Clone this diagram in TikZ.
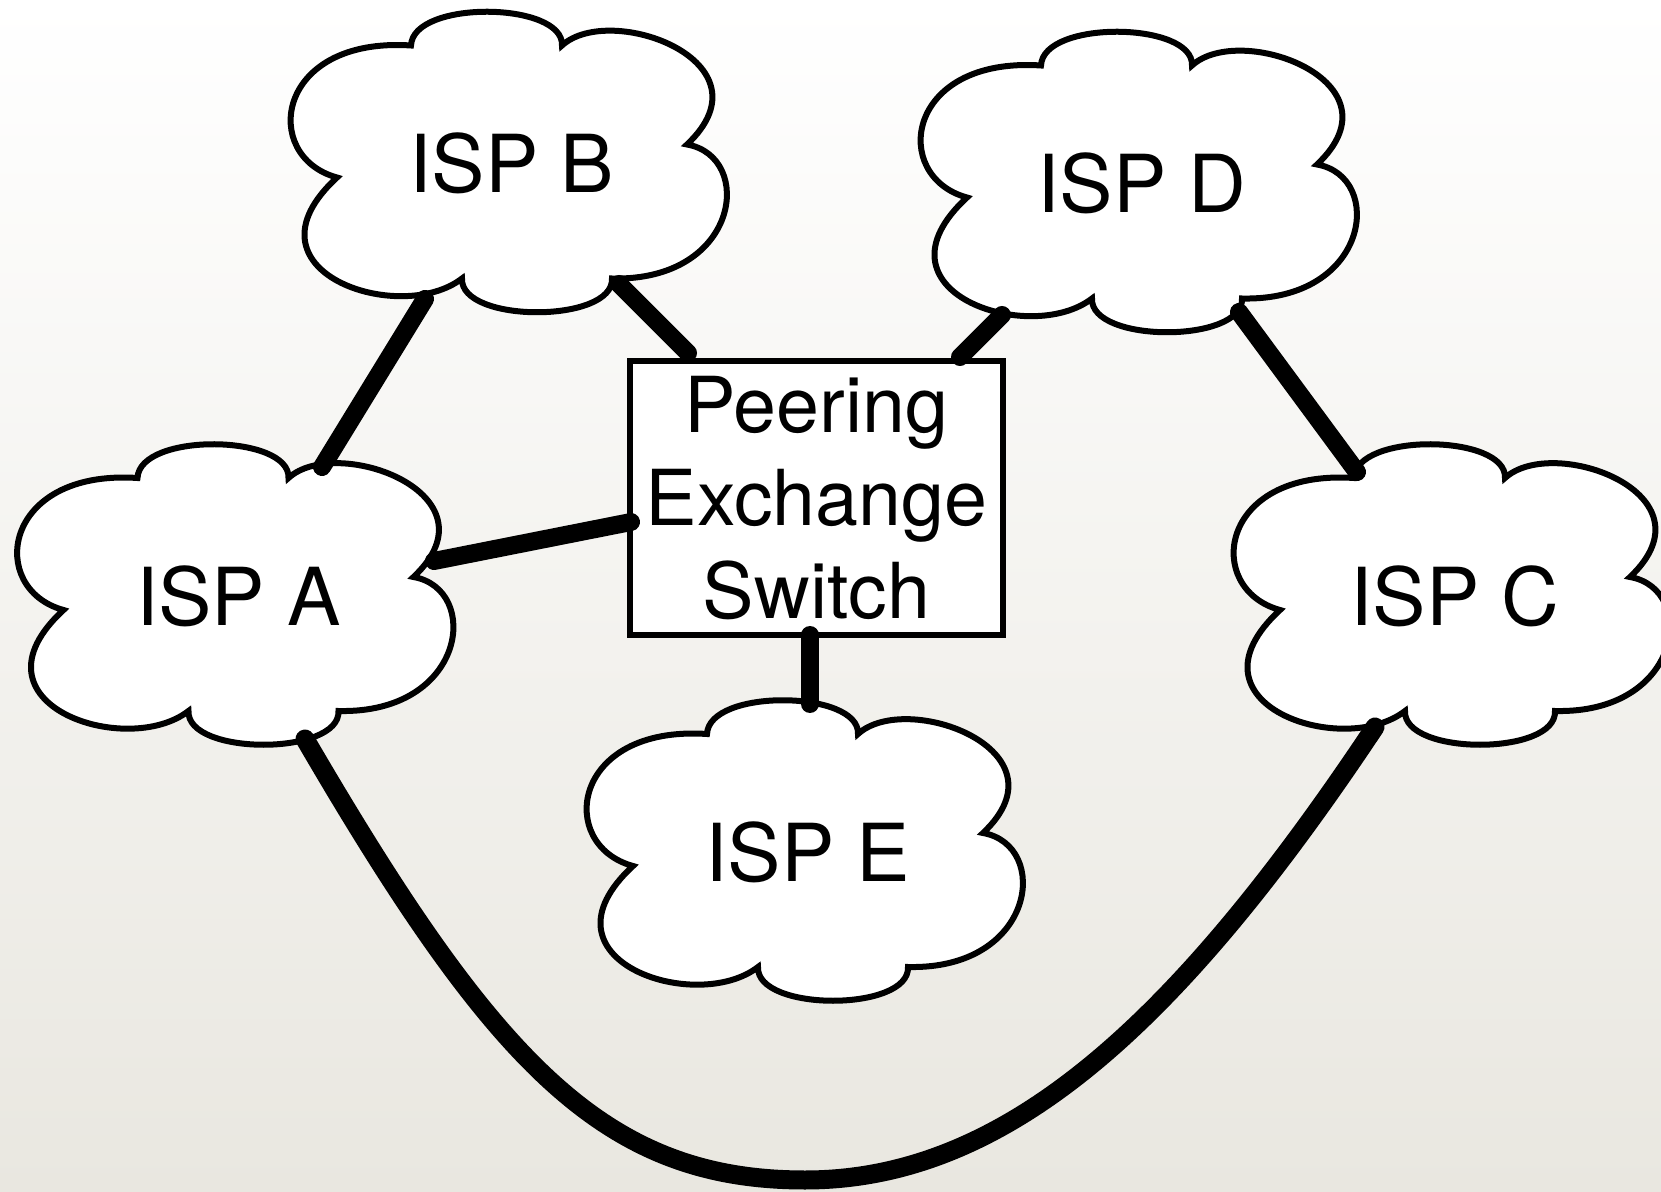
\documentclass[tikz,border=0pt]{standalone}
\usepackage{fontspec}
\setmainfont{TeX Gyre Heros}
\usetikzlibrary{calc}
\definecolor{bgbot}{RGB}{233,231,224}
\begin{document}
\begin{tikzpicture}[x=0.5pt,y=-0.5pt,
  cloudline/.style={draw=black,line width=3pt,fill=white,miter limit=4},
  isplabel/.style={font=\fontsize{40pt}{48pt}\selectfont,inner sep=0pt,xshift=1pt,yshift=-1pt},
  link/.style={line width=9pt,line cap=round},
  switchbox/.style={draw,line width=3pt,fill=white,minimum width=186.5pt,minimum height=137pt,inner sep=0pt,align=center,font=\fontsize{38.6pt}{46.5pt}\selectfont},
  ispcloud/.pic={\path[cloudline] (-99,-116) .. controls (-97,-162) and (54,-160) .. (52,-116)
     .. controls (100,-160) and (265,-100) .. (177,-17)
     .. controls (245,-5) and (230,120) .. (102,117)
     .. controls (104,162) and (-50,162) .. (-48,117)
     .. controls (-110,165) and (-275,110) .. (-173,16)
     .. controls (-250,-5) and (-235,-125) .. (-99,-116) -- cycle;}
]
\useasboundingbox (0,0) rectangle (1661,1192);
\clip (0,0) rectangle (1661,1192);
\shade[top color=white,bottom color=bgbot] (0,0) rectangle (1661,1192);

% clouds
\pic at (510,161.5) {ispcloud};
\node[isplabel] (B) at (510,161.5) {ISP B};
\pic at (1140,181.5) {ispcloud};
\node[isplabel] (D) at (1140,181.5) {ISP D};
\pic at (236.5,594) {ispcloud};
\node[isplabel] (A) at (236.5,594) {ISP A};
\pic at (1453,594) {ispcloud};
\node[isplabel] (C) at (1453,594) {ISP C};
\pic at (806,850) {ispcloud};
\node[isplabel] (E) at (806,850) {ISP E};

% switch
\node[switchbox] (X) at (816.5,498) {Peering\\Exchange\\Switch};

% links
\draw[link] ($(A)+(83.5,-129)$) -- ($(B)+(-87,135.5)$);
\draw[link] ($(B)+(107,120.5)$) -- ($(X)+(-128.5,-145)$);
\draw[link] ($(D)+(-140,131.5)$) -- ($(X)+(143.5,-141)$);
\draw[link] ($(D)+(97,128.5)$) -- ($(C)+(-98,-124)$);
\draw[link] ($(A)+(195.5,-35)$) -- ($(X)+(-185.5,24)$);
\draw[link] ($(X)+(-6.5,137)$) -- ($(E)+(2,-148)$);
\coordinate (M) at (805,1180);
\draw[link,line width=9.5pt] ($(A)+(66.5,143)$) .. controls (495,1065) and (605,1180) .. (M)
   .. controls (1005,1180) and (1176,1026) .. ($(C)+(-80,131)$);
\end{tikzpicture}
\end{document}
